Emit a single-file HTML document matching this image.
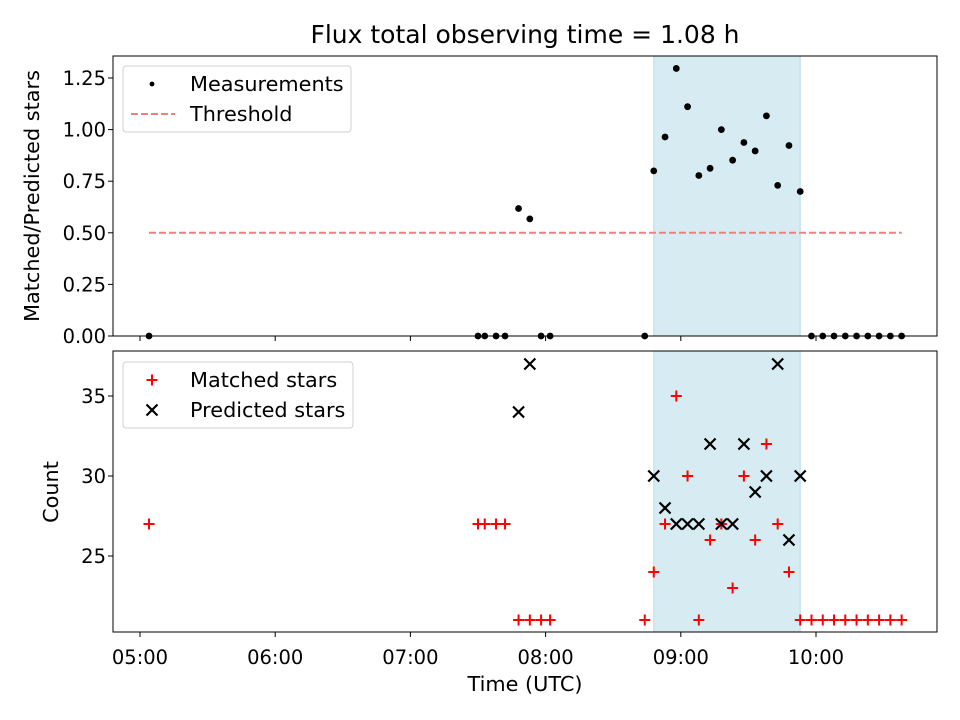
<!DOCTYPE html>
<html><head><meta charset="utf-8"><style>
body{margin:0;background:#fff}
svg{display:block;font-family:"DejaVu Sans","Liberation Sans",sans-serif}
</style></head><body>
<svg id="c" width="960" height="720" viewBox="0 0 960 720" xmlns="http://www.w3.org/2000/svg"></svg>
<script>
// data
const times = ["05:04","07:30","07:33","07:38","07:42","07:48","07:53","07:58","08:02","08:44",
"08:48","08:53","08:58","09:03","09:08","09:13","09:18","09:23","09:28","09:33","09:38","09:43","09:48","09:53",
"09:58","10:03","10:08","10:13","10:18","10:23","10:28","10:33","10:38"];
const matched = [27,27,27,27,27,21,21,21,21,21,
24,27,35,30,21,26,27,23,30,26,32,27,24,21,
21,21,21,21,21,21,21,21,21];
const predicted = [null,null,null,null,null,34,37,null,null,null,
30,28,27,27,27,32,27,27,32,29,30,37,26,30,
null,null,null,null,null,null,null,null,null];
const shadeRange = ["08:48","09:53"];
const threshold = 0.5;
const xTicks = ["05:00","06:00","07:00","08:00","09:00","10:00"];
const topTicks = [0,0.25,0.5,0.75,1.0,1.25];
const botTicks = [25,30,35];

const NS="http://www.w3.org/2000/svg";
const svg=document.getElementById('c');
const FS='19.5px', LF='20.8px';
function el(tag,attrs,parent){const e=document.createElementNS(NS,tag);for(const k in attrs)e.setAttribute(k,attrs[k]);(parent||svg).appendChild(e);return e;}
function hrs(t){const [h,m]=t.split(':').map(Number);return h+m/60;}
const L=113,R=937;
const x=t=>140+(hrs(t)-5)*135.2;
const T0=56,T1=336, yTop=v=>336-v*206.4;
const B0=351,B1=632, yBot=v=>556-(v-25)*16;

let t=el('text',{x:525,y:43,'text-anchor':'middle','font-size':'25px'});t.textContent="Flux total observing time = 1.08 h";



function panel(y0,y1,name){
  const g=el('g',{});
  
  
  const s=el('rect',{x:x(shadeRange[0]),y:y0,width:x(shadeRange[1])-x(shadeRange[0]),height:y1-y0,fill:'#add8e6','fill-opacity':0.5,stroke:'#add8e6','stroke-opacity':0.8},g);
  
  
  return g;
}
function frame(g,y0,y1){
  const f=el('rect',{x:L,y:y0,width:R-L,height:y1-y0,fill:'none',stroke:'#000','stroke-width':1},g);
  
  
  xTicks.forEach(tk=>{el('line',{x1:x(tk),x2:x(tk),y1:y1,y2:y1+5,stroke:'#000'},g);});
}

const gt=panel(T0,T1,'ratio-panel');
const thr=el('line',{x1:x(times[0]),x2:x(times[times.length-1]),y1:yTop(threshold),y2:yTop(threshold),stroke:'#f08080','stroke-width':2,'stroke-dasharray':'7,3'},gt);


times.forEach((tm,i)=>{
  const r=predicted[i]?matched[i]/predicted[i]:0;
  const c=el('circle',{cx:x(tm),cy:yTop(r),r:3.4,fill:'#000'},gt);
  
  
});
frame(gt,T0,T1);
topTicks.forEach(v=>{
  el('line',{x1:L-5,x2:L,y1:yTop(v),y2:yTop(v),stroke:'#000'},gt);
  const l=el('text',{x:L-7,y:yTop(v)+7,'text-anchor':'end','font-size':FS},gt);l.textContent=v.toFixed(2);
  
  
});
let yl=el('text',{x:39,y:196,'text-anchor':'middle','font-size':LF,transform:'rotate(-90 39 196)'});yl.textContent="Matched/Predicted stars";



const gb=panel(B0,B1,'count-panel');
function plus(cx,cy,g){return el('path',{d:`M${cx-5.5},${cy}H${cx+5.5}M${cx},${cy-5.5}V${cy+5.5}`,stroke:'#f00','stroke-width':2},g);}
function cross(cx,cy,g){return el('path',{d:`M${cx-5.5},${cy-5.5}L${cx+5.5},${cy+5.5}M${cx-5.5},${cy+5.5}L${cx+5.5},${cy-5.5}`,stroke:'#000','stroke-width':2.2},g);}
times.forEach((tm,i)=>{
  const p=plus(x(tm),yBot(matched[i]),gb);
  
  
});
times.forEach((tm,i)=>{
  if(predicted[i]==null)return;
  const p=cross(x(tm),yBot(predicted[i]),gb);
  
  
});
frame(gb,B0,B1);
botTicks.forEach(v=>{
  el('line',{x1:L-5,x2:L,y1:yBot(v),y2:yBot(v),stroke:'#000'},gb);
  const l=el('text',{x:L-7,y:yBot(v)+7,'text-anchor':'end','font-size':FS},gb);l.textContent=v;
  
  
});
xTicks.forEach(tk=>{
  const l=el('text',{x:x(tk),y:B1+32,'text-anchor':'middle','font-size':FS},gb);l.textContent=tk;
  
  
});
let cl=el('text',{x:58,y:492,'text-anchor':'middle','font-size':LF,transform:'rotate(-90 58 492)'});cl.textContent="Count";


let xl=el('text',{x:525,y:691,'text-anchor':'middle','font-size':LF});xl.textContent="Time (UTC)";



function legend(x0,y0,w,name){
  const g=el('g',{});
  
  
  el('rect',{x:x0,y:y0,width:w,height:66,rx:3,fill:'#fff','fill-opacity':0.8,stroke:'#d0d0d0'},g);
  return g;
}
const lg1=legend(123,66,228,'top-legend');
el('circle',{cx:152,cy:84,r:2.4,fill:'#000'},lg1);
let e1=el('text',{x:190,y:91,'font-size':LF},lg1);e1.textContent="Measurements";


el('line',{x1:131,x2:175,y1:114,y2:114,stroke:'#f08080','stroke-width':2,'stroke-dasharray':'7,3'},lg1);
let e2=el('text',{x:190,y:121,'font-size':LF},lg1);e2.textContent="Threshold";



const lg2=legend(123,362,230,'bottom-legend');
plus(152,380,lg2);
let e3=el('text',{x:190,y:387,'font-size':LF},lg2);e3.textContent="Matched stars";


cross(152,410,lg2);
let e4=el('text',{x:190,y:417,'font-size':LF},lg2);e4.textContent="Predicted stars";


</script>
</body></html>
